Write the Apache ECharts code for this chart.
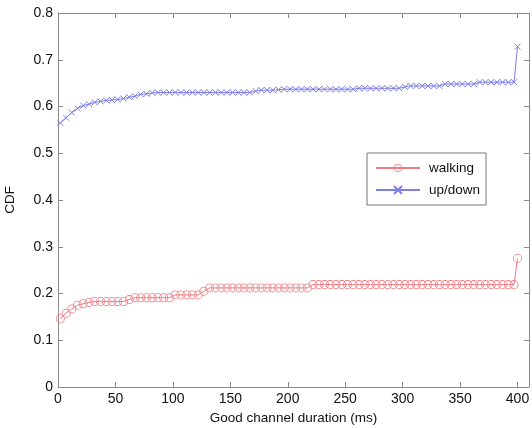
<!DOCTYPE html>
<html><head><meta charset="utf-8">
<script src="https://cdn.jsdelivr.net/npm/echarts@6/dist/echarts.min.js"></script>
<style>html,body{margin:0;padding:0;background:#fff}#c{width:532px;height:428px}</style>
</head><body><div id="c"></div>
<script>
const durations = [2,7,12,17,22,27,32,37,42,47,52,57,62,67,72,77,82,87,92,97,102,107,112,117,122,127,132,137,142,147,152,157,162,167,172,177,182,187,192,197,202,207,212,217,222,227,232,237,242,247,252,257,262,267,272,277,282,287,292,297,302,307,312,317,322,327,332,337,342,347,352,357,362,367,372,377,382,387,392,397,400];
const walking = [0.146,0.158,0.167,0.175,0.178,0.181,
  0.183,0.183,0.183,0.183,0.183,0.183,
  0.187,
  0.191,0.191,0.191,0.191,0.191,0.191,0.191,
  0.197,0.197,0.197,0.197,0.197,
  0.205,
  0.212,0.212,0.212,0.212,0.212,0.212,0.212,0.212,0.212,0.212,0.212,0.212,0.212,0.212,0.212,0.212,0.212,0.212,
  0.219,0.219,0.219,0.219,0.219,0.219,0.219,0.219,0.219,0.219,0.219,0.219,0.219,0.219,0.219,0.219,0.219,0.219,
  0.219,0.219,0.219,0.219,0.219,0.219,0.219,0.219,0.219,0.219,0.219,0.219,0.219,0.219,0.219,0.219,0.219,0.219,
  0.275];
const updown = [0.565,0.576,0.587,0.596,0.602,0.605,0.609,0.611,0.613,0.614,0.615,0.617,0.620,0.622,0.626,0.627,0.629,0.630,
  0.630,0.630,0.630,0.630,0.630,0.630,0.630,0.630,0.630,0.630,0.630,0.630,0.630,0.630,0.630,0.630,
  0.633,0.635,0.635,0.635,0.636,
  0.637,0.637,0.637,0.637,0.637,0.637,0.637,0.637,0.637,0.637,0.637,0.637,0.637,
  0.639,0.639,0.639,0.639,0.639,0.639,0.639,0.639,
  0.642,0.644,0.644,0.644,0.644,0.644,0.644,
  0.648,0.648,0.648,0.648,0.648,0.648,
  0.652,0.652,0.652,0.652,0.652,0.652,0.652,
  0.728];
const seriesNames = ['walking','up/down'];
const xTicks = [0,50,100,150,200,250,300,350,400];
const yTicks = [0,0.1,0.2,0.3,0.4,0.5,0.6,0.7,0.8];

const axisCol = '#8a8a8a';
const font = 'Liberation Sans, Arial, sans-serif';
const redC = '#f07c84', blueC = '#7f7fea';
const ring = 'path://M0,5a5,5 0 1,0 10,0a5,5 0 1,0 -10,0Z M0.9,5a4.1,4.1 0 1,1 8.2,0a4.1,4.1 0 1,1 -8.2,0Z';
const chart = echarts.init(document.getElementById('c'));
function common(){return {axisLine:{show:true,onZero:false,lineStyle:{color:axisCol,width:1}}, axisTick:{show:true,inside:true,length:5,lineStyle:{color:axisCol}}, splitLine:{show:false}};}
chart.setOption({
  animation:false,
  backgroundColor:'#fff',
  grid:{left:58,right:3,top:13,bottom:41,containLabel:false,outerBoundsMode:'none'},
  legend:{
    data:seriesNames, orient:'vertical', left:367, top:153,
    itemWidth:44, itemHeight:10, itemGap:8,
    padding:[8,6,8,8], borderColor:'#777', borderWidth:1, backgroundColor:'#fff',
    textStyle:{fontFamily:font,fontSize:13.5,color:'#111',padding:[0,0,0,4]}
  },
  xAxis:[
    Object.assign({type:'value',min:0,max:410,interval:50,position:'bottom',
      name:'Good channel duration (ms)',nameLocation:'middle',nameGap:22,
      nameTextStyle:{fontFamily:font,fontSize:13.5,color:'#111'},
      axisLabel:{fontFamily:font,fontSize:14,color:'#111',margin:5,showMaxLabel:false,
        formatter:v=>xTicks.includes(v)?String(v):''}},common()),
    Object.assign({type:'value',min:0,max:410,interval:50,position:'top',axisLabel:{show:false}},common())
  ],
  yAxis:[
    Object.assign({type:'value',min:0,max:0.8,interval:0.1,position:'left',
      name:'CDF',nameLocation:'middle',nameGap:41,
      nameTextStyle:{fontFamily:font,fontSize:13.5,color:'#111'},
      axisLabel:{fontFamily:font,fontSize:14,color:'#111',margin:5,
        formatter:v=>{const t=yTicks.find(a=>Math.abs(a-v)<1e-9);return t===undefined?'':(t===0?'0':String(+t.toFixed(1)));}}},common()),
    Object.assign({type:'value',min:0,max:0.8,interval:0.1,position:'right',axisLabel:{show:false}},common())
  ],
  series:[
    {name:seriesNames[0],type:'line',data:durations.map((d,i)=>[d,walking[i]]),
      symbol:ring,symbolSize:9,showAllSymbol:true,color:redC,
      lineStyle:{color:redC,width:1},itemStyle:{color:redC,borderWidth:0}},
    {name:seriesNames[1],type:'line',data:durations.map((d,i)=>[d,updown[i]]),
      symbol:'path://M0,0L10,10M10,0L0,10',symbolSize:6,showAllSymbol:true,color:blueC,
      lineStyle:{color:blueC,width:1},itemStyle:{color:blueC,borderColor:blueC,borderWidth:1}}
  ]
});
</script></body></html>
